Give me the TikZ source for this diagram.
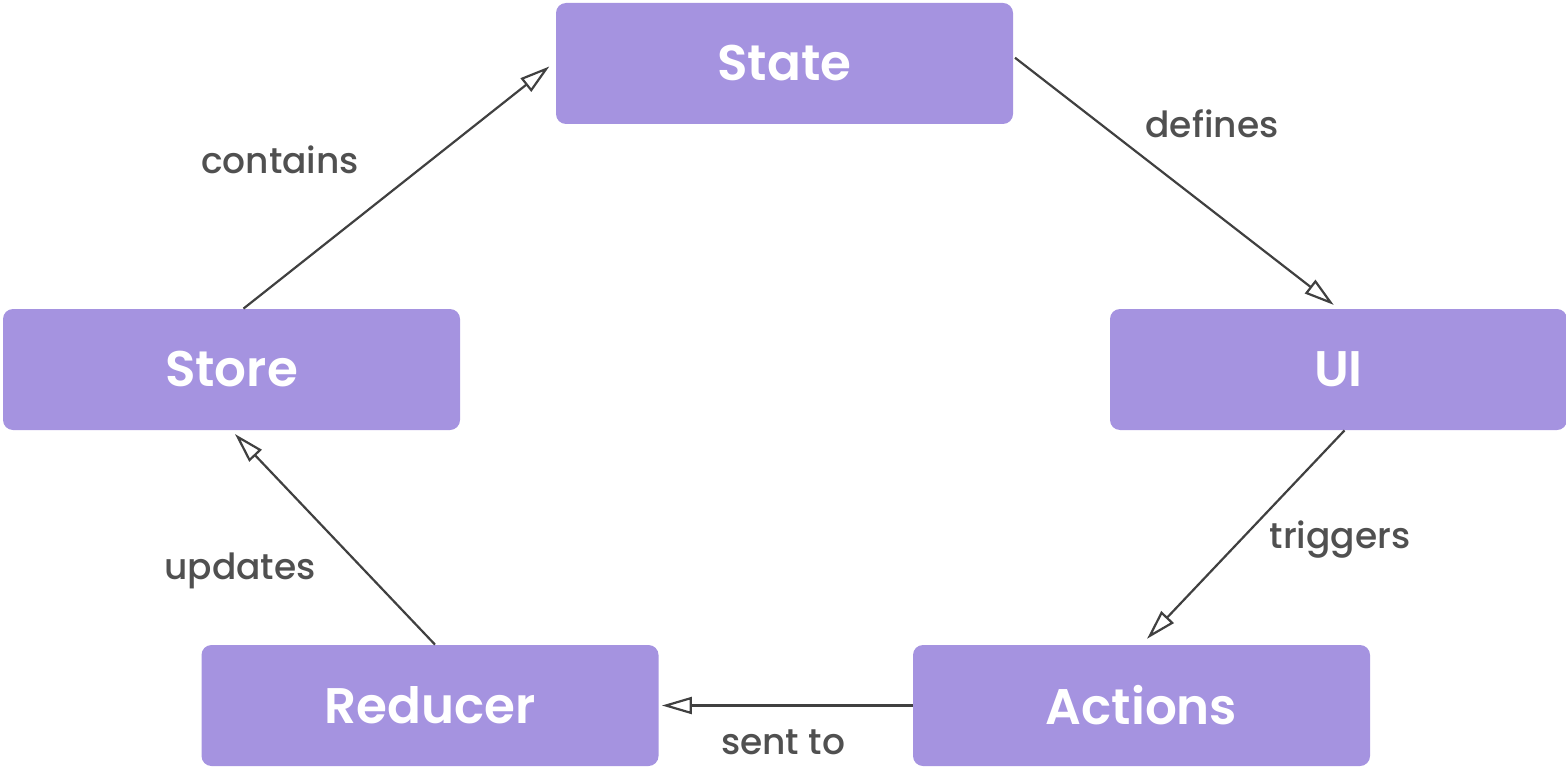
\documentclass[tikz,border=0pt]{standalone}
\usepackage{fontspec}
\setmainfont{Poppins}
\newfontfamily\labfont{Poppins Medium}
\newfontfamily\boxfont{Poppins SemiBold}
\usetikzlibrary{arrows.meta,calc}
\definecolor{boxfill}{HTML}{A593E0}
\definecolor{linecol}{HTML}{404040}
\definecolor{labcol}{HTML}{505050}
\begin{document}
\begin{tikzpicture}[x=0.5pt,y=-0.5pt,
  box/.style={fill=boxfill,rounded corners=5pt,minimum width=228.5pt,minimum height=60.5pt,
    text=white,font=\boxfont\fontsize{25}{30}\selectfont,inner sep=0pt},
  conn/.style={draw=linecol,line width=1.1pt,-{Triangle[open,length=15pt,width=8.5pt,line width=1.1pt]}},
  lab/.style={text=labcol,font=\labfont\fontsize{18}{22}\selectfont,inner sep=0pt}]
\useasboundingbox (0,0) rectangle (1566,770);
\node[box] (state) at (784.5,63.5) {State};
\node[box] (store) at (231.5,369.5) {Store};
\node[box] (ui) at (1338.5,369.5) {UI};
\node[box] (reducer) at (430,705.5) {Reducer};
\node[box] (actions) at (1141.5,705.5) {Actions};
\draw[conn,shorten >=4pt] ([xshift=6pt]store.north) -- ([yshift=1pt]state.west);
\draw[conn,shorten <=1pt,shorten >=3pt] ([yshift=3.5pt]state.east) -- (ui.north);
\draw[conn,shorten >=4pt] ([xshift=3pt]ui.south) -- (actions.north);
\draw[conn,shorten >=1.5pt] (actions.west) -- (reducer.east);
\draw[conn,shorten >=2.5pt] ([xshift=2.5pt]reducer.north) -- (store.south);
\node[lab] (l1) at (280,160) {contains};
\node[lab] (l2) at (1212,124) {defines};
\node[lab] (l3) at (1340,540) {triggers};
\node[lab] (l4) at (783,742) {sent to};
\node[lab] (l5) at (240,571) {updates};
\end{tikzpicture}
\end{document}
